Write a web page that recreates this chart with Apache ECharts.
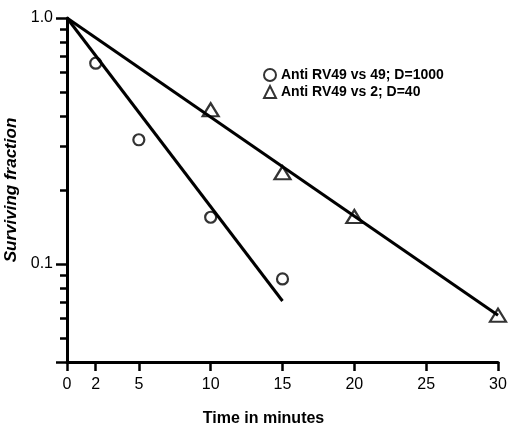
<!DOCTYPE html>
<html>
<head>
<meta charset="utf-8">
<script src="https://cdn.jsdelivr.net/npm/echarts@6/dist/echarts.min.js"></script>
<style>html,body{margin:0;padding:0;background:#fff}#c{width:512px;height:428px}</style>
</head>
<body>
<div id="c"></div>
<script>
// Data
const seriesNames = ['Anti RV49 vs 49; D=1000', 'Anti RV49 vs 2; D=40'];
const circleTimes = [2, 5, 10, 15];
const circleValues = [0.655, 0.32, 0.155, 0.087];
const triangleTimes = [10, 15, 20, 30];
const triangleValues = [0.424, 0.235, 0.156, 0.062];
const fit1Times = [0, 15];
const fit1Values = [1.0, 0.0708];
const fit2Times = [0, 30];
const fit2Values = [1.0, 0.062];
const xTicks = [0, 2, 5, 10, 15, 20, 25, 30];
const yMajorTicks = [0.04, 0.1, 1.0];
const yLabelTicks = [0.1, 1.0];
const yMinorTicks = [0.05, 0.06, 0.07, 0.08, 0.09, 0.2, 0.3, 0.4, 0.5, 0.6, 0.7, 0.8, 0.9];

const zip = (xs, ys) => xs.map((x, i) => [x, ys[i]]);
const FONT = 'Liberation Sans';
const chart = echarts.init(document.getElementById('c'), null, {renderer: 'canvas'});
chart.setOption({
  animation: false,
  backgroundColor: '#fff',
  grid: {left: 67, right: 14, top: 18, bottom: 66, containLabel: false, outerBoundsMode: 'none'},
  legend: {
    orient: 'vertical', left: 258, top: 63, itemWidth: 12, itemHeight: 12, itemGap: 3,
    data: seriesNames,
    textStyle: {fontFamily: FONT, fontSize: 14, lineHeight: 14, fontWeight: 'bold', color: '#000'}
  },
  xAxis: {
    type: 'value', min: 0, max: 30,
    name: 'Time in minutes', nameLocation: 'middle', nameGap: 49,
    nameTextStyle: {fontFamily: FONT, fontSize: 16, fontWeight: 'bold', color: '#000', padding: [0, 38, 0, 0]},
    axisLine: {lineStyle: {color: '#000', width: 3}},
    axisTick: {customValues: xTicks, length: 9, lineStyle: {color: '#000', width: 2.5}},
    axisLabel: {customValues: xTicks, margin: 15, fontFamily: FONT, fontSize: 16, color: '#000'},
    splitLine: {show: false}
  },
  yAxis: [{
    type: 'log', logBase: 10, min: 0.04, max: 1,
    name: 'Surviving fraction', nameLocation: 'middle', nameGap: 43, nameRotate: 90,
    nameTextStyle: {fontFamily: FONT, fontSize: 17, fontStyle: 'italic', fontWeight: 'bold', color: '#000'},
    axisLine: {show: true, lineStyle: {color: '#000', width: 3}},
    axisTick: {customValues: yMajorTicks, length: 11, lineStyle: {color: '#000', width: 2.5}},
    axisLabel: {customValues: yLabelTicks, margin: 14, fontFamily: FONT, fontSize: 16, color: '#000',
      formatter: v => (v >= 1 ? '1.0' : String(v))},
    splitLine: {show: false}
  }, {
    type: 'log', logBase: 10, min: 0.04, max: 1, position: 'left', offset: 0,
    axisLine: {show: false},
    axisTick: {customValues: yMinorTicks, length: 7, lineStyle: {color: '#000', width: 2.5}},
    axisLabel: {show: false},
    splitLine: {show: false}
  }],
  series: [
    {name: 'fit1', type: 'line', data: zip(fit1Times, fit1Values), showSymbol: false, symbol: 'none',
      lineStyle: {color: '#000', width: 3}, silent: true},
    {name: 'fit2', type: 'line', data: zip(fit2Times, fit2Values), showSymbol: false, symbol: 'none',
      lineStyle: {color: '#000', width: 3}, silent: true},
    {name: seriesNames[0], type: 'scatter', data: zip(circleTimes, circleValues), symbol: 'circle', symbolSize: 11,
      itemStyle: {color: '#fff', borderColor: '#000', borderWidth: 2.2}},
    {name: seriesNames[1], type: 'scatter', data: zip(triangleTimes, triangleValues), symbol: 'triangle', symbolSize: [16, 13],
      itemStyle: {color: '#fff', borderColor: '#000', borderWidth: 2.2}}
  ]
});
</script>
</body>
</html>
